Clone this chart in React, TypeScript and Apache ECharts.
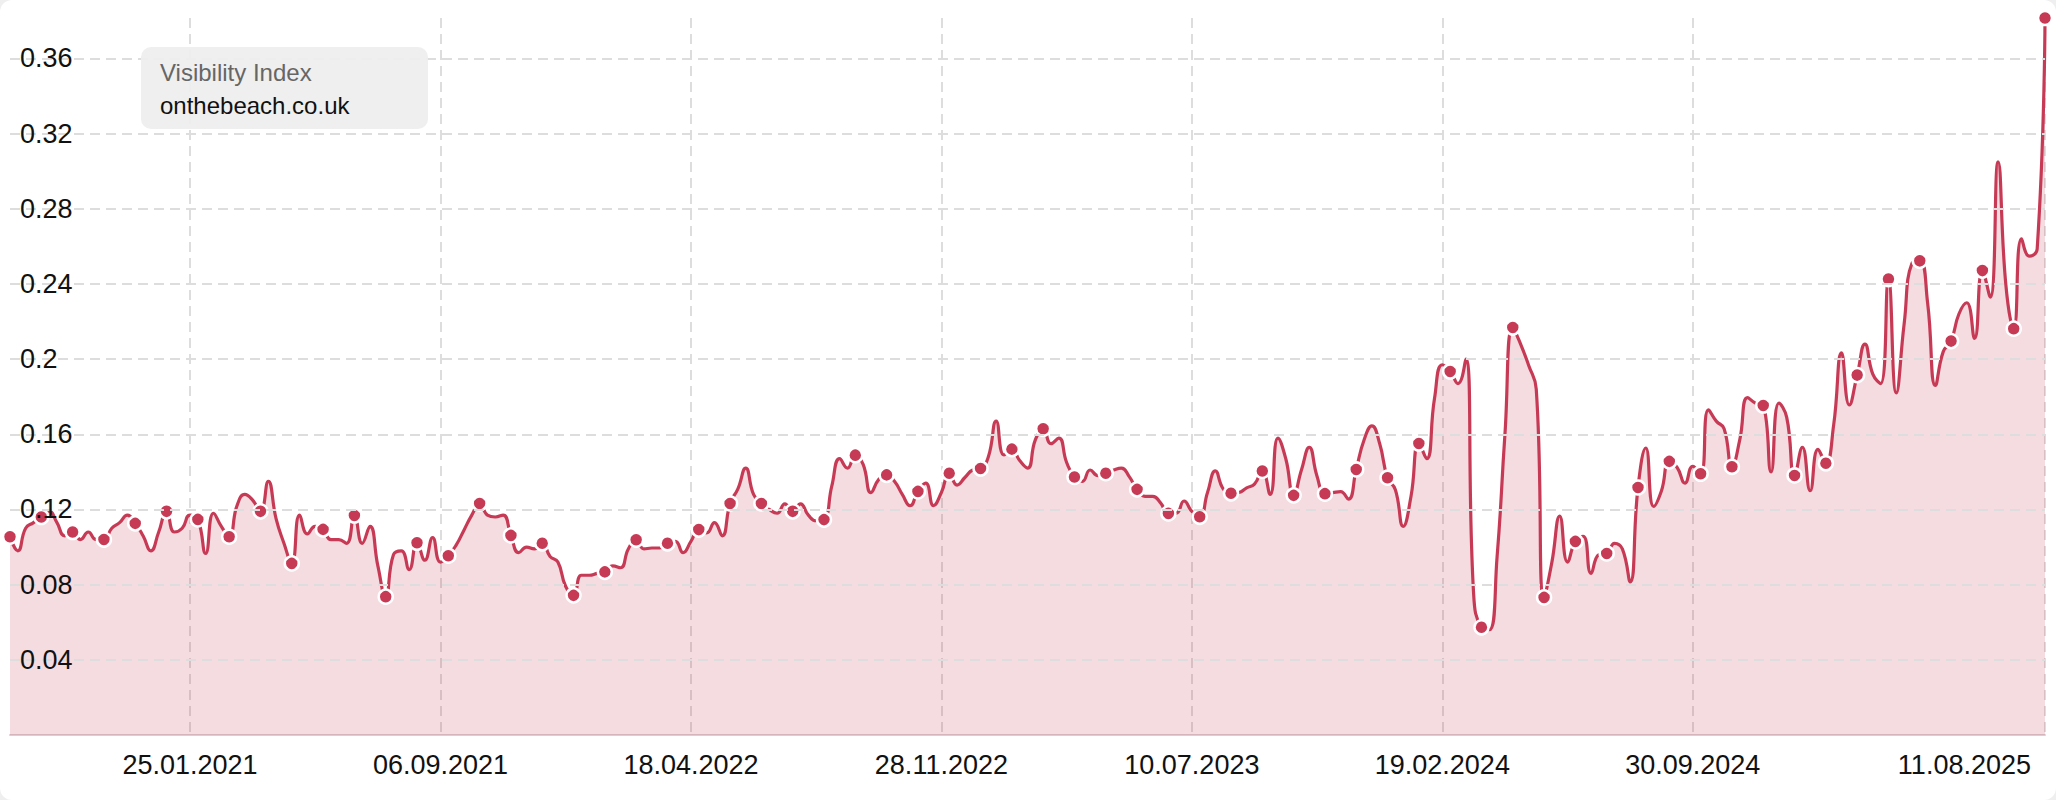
import React, { useEffect, useRef } from "react";
import * as echarts from "echarts";

// Weekly Visibility Index values, starting Monday 17.08.2020
const START_DATE = "2020-08-17";
const values: number[] = [
  0.1055, 0.098, 0.11, 0.113,
  0.116, 0.119, 0.113, 0.106,
  0.108, 0.104, 0.108, 0.104,
  0.104, 0.11, 0.113, 0.117,
  0.1126, 0.106, 0.098, 0.108,
  0.119, 0.108, 0.11, 0.117,
  0.1147, 0.0966, 0.118, 0.111,
  0.1055, 0.122, 0.128, 0.125,
  0.119, 0.135, 0.115, 0.102,
  0.0913, 0.117, 0.107, 0.111,
  0.1094, 0.104, 0.104, 0.102,
  0.1168, 0.102, 0.111, 0.09,
  0.0736, 0.096, 0.098, 0.088,
  0.1023, 0.093, 0.105, 0.092,
  0.0954, 0.101, 0.109, 0.117,
  0.1232, 0.117, 0.116, 0.117,
  0.1062, 0.097, 0.1, 0.099,
  0.102, 0.095, 0.092, 0.079,
  0.0743, 0.085, 0.085, 0.086,
  0.0868, 0.09, 0.089, 0.099,
  0.1039, 0.099, 0.0995, 0.0995,
  0.102, 0.103, 0.097, 0.103,
  0.1093, 0.1075, 0.113, 0.106,
  0.1232, 0.131, 0.142, 0.128,
  0.1232, 0.12, 0.118, 0.123,
  0.119, 0.123, 0.117, 0.114,
  0.1146, 0.1325, 0.147, 0.142,
  0.1489, 0.144, 0.129, 0.136,
  0.1384, 0.135, 0.128, 0.122,
  0.1296, 0.134, 0.122, 0.129,
  0.1393, 0.133, 0.137, 0.141,
  0.1418, 0.148, 0.167, 0.149,
  0.1521, 0.146, 0.142, 0.157,
  0.1629, 0.155, 0.158, 0.145,
  0.1373, 0.135, 0.141, 0.138,
  0.1393, 0.141, 0.142, 0.1375,
  0.1307, 0.127, 0.127, 0.1235,
  0.1179, 0.118, 0.1245, 0.119,
  0.1161, 0.129, 0.1405, 0.131,
  0.1286, 0.129, 0.1315, 0.1335,
  0.1405, 0.128, 0.158, 0.147,
  0.1275, 0.141, 0.153, 0.1376,
  0.1284, 0.129, 0.1295, 0.1255,
  0.1413, 0.157, 0.1645, 0.155,
  0.1369, 0.1305, 0.111, 0.127,
  0.1551, 0.147, 0.179, 0.197,
  0.1934, 0.187, 0.2, 0.075,
  0.0573, 0.056, 0.095, 0.16,
  0.2168, 0.208, 0.197, 0.184,
  0.0732, 0.092, 0.1165, 0.092,
  0.103, 0.1057, 0.086, 0.096,
  0.0966, 0.102, 0.099, 0.0815,
  0.1317, 0.1527, 0.1216, 0.13,
  0.1456, 0.1423, 0.134, 0.143,
  0.139, 0.173, 0.167, 0.163,
  0.1427, 0.157, 0.1795, 0.1766,
  0.1753, 0.14, 0.1766, 0.169,
  0.1381, 0.153, 0.13, 0.152,
  0.1446, 0.165, 0.2033, 0.1756,
  0.1915, 0.208, 0.192, 0.187,
  0.2426, 0.182, 0.2186, 0.251,
  0.2523, 0.23, 0.186, 0.204,
  0.2096, 0.224, 0.23, 0.211,
  0.2471, 0.233, 0.305, 0.2395,
  0.2162, 0.264, 0.2548, 0.2586,
  0.3815,
];

const tickLabels: string[] = [
  "25.01.2021",
  "06.09.2021",
  "18.04.2022",
  "28.11.2022",
  "10.07.2023",
  "19.02.2024",
  "30.09.2024",
  "11.08.2025",
];

const legendTitle = "Visibility Index";
const seriesName = "onthebeach.co.uk";
const MARKER_EVERY = 4;

function pad(n: number) {
  return n < 10 ? "0" + n : String(n);
}

function buildWeeks(start: string, n: number): string[] {
  const [y, m, d] = start.split("-").map(Number);
  const base = Date.UTC(y, m - 1, d);
  const out: string[] = [];
  for (let i = 0; i < n; i++) {
    const dt = new Date(base + i * 7 * 86400000);
    out.push(pad(dt.getUTCDate()) + "." + pad(dt.getUTCMonth() + 1) + "." + dt.getUTCFullYear());
  }
  return out;
}

const weeks = buildWeeks(START_DATE, values.length);

const LINE = "#c73a55";
const FONT = "'Liberation Sans', Arial, Helvetica, sans-serif";

export default function App() {
  const ref = useRef<HTMLDivElement>(null);

  useEffect(() => {
    document.body.style.margin = "0";
    document.body.style.background = "#efefef";
    const el = ref.current;
    if (!el) return;
    const chart = echarts.init(el, null, { renderer: "svg" });
    const tickSet = new Set(tickLabels);
    const lastIndex = weeks.length - 1;

    chart.setOption({
      animation: false,
      textStyle: { fontFamily: FONT },
      grid: { left: 10, right: 11, top: 18, bottom: 65 },
      xAxis: {
        type: "category",
        data: weeks,
        boundaryGap: false,
        axisLine: { show: true, lineStyle: { color: "#d9cfd2", width: 2 } },
        axisTick: { show: false },
        axisLabel: {
          interval: (idx: number, val: string) => tickSet.has(val),
          color: "#111",
          fontSize: 27,
          fontFamily: FONT,
          margin: 16,
          alignMaxLabel: "right",
          formatter: (val: string, idx: number) =>
            idx === lastIndex ? "{last|" + val + "}" : val,
          rich: {
            last: { fontSize: 27, fontFamily: FONT, color: "#111", padding: [0, 14, 0, 0] },
          },
        },
        splitLine: {
          show: true,
          interval: (idx: number, val: string) => tickSet.has(val),
          lineStyle: { color: "#dddddd", width: 2, type: [10, 6] },
        },
      },
      yAxis: {
        type: "value",
        min: 0,
        max: 0.3815,
        interval: 0.04,
        axisLine: { show: false },
        axisTick: { show: false },
        axisLabel: {
          inside: true,
          margin: 10,
          color: "#111",
          fontSize: 27,
          fontFamily: FONT,
          showMinLabel: false,
          showMaxLabel: false,
        },
        splitLine: {
          show: true,
          showMinLine: false,
          showMaxLine: false,
          lineStyle: { color: "#dddddd", width: 2, type: [10, 6] },
        },
        z: 3,
      },
      series: [
        {
          name: seriesName,
          type: "line",
          data: values,
          smooth: 0.5,
          showAllSymbol: true,
          symbol: (_v: any, p: any) => (p.dataIndex % MARKER_EVERY === 0 ? "circle" : "none"),
          symbolSize: 14,
          lineStyle: { color: LINE, width: 3.2 },
          itemStyle: { color: LINE, borderColor: "#ffffff", borderWidth: 2.5 },
          areaStyle: { color: "rgb(196,48,80)", opacity: 0.17 },
          z: 2,
        },
      ],
      graphic: [
        {
          type: "group",
          left: 141,
          top: 47,
          z: 100,
          children: [
            {
              type: "rect",
              z: 100,
              shape: { x: 0, y: 0, width: 287, height: 82, r: 10 },
              style: { fill: "rgba(238,238,238,0.94)" },
            },
            {
              type: "text",
              z: 101,
              x: 19,
              y: 25,
              style: {
                text: legendTitle,
                fontSize: 24,
                fontFamily: FONT,
                fill: "#666666",
                verticalAlign: "middle",
              },
            },
            {
              type: "text",
              z: 101,
              x: 19,
              y: 58,
              style: {
                text: seriesName,
                fontSize: 24,
                fontFamily: FONT,
                fill: "#111111",
                verticalAlign: "middle",
              },
            },
          ],
        },
      ],
    });

    return () => chart.dispose();
  }, []);

  return (
    <div
      ref={ref}
      style={{
        width: 2056,
        height: 800,
        background: "#ffffff",
        borderRadius: 12,
        overflow: "hidden",
      }}
    />
  );
}
